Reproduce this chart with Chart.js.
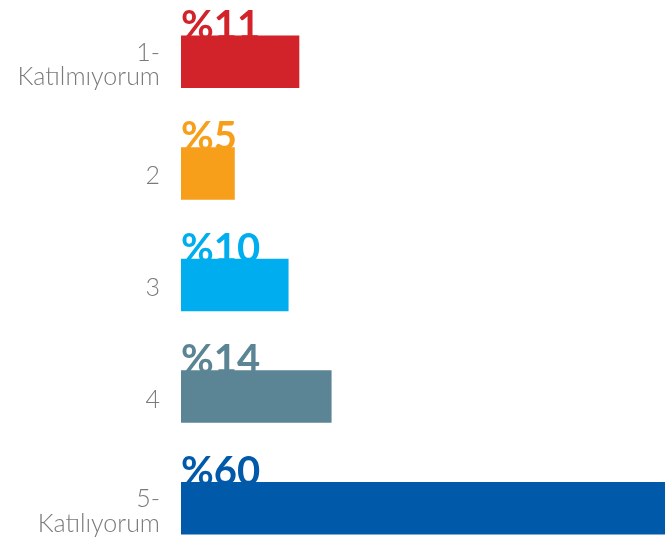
<!DOCTYPE html>
<html>
<head>
<meta charset="utf-8">
<script src="https://cdn.jsdelivr.net/npm/chart.js@4"></script>
<style>
  html, body { margin: 0; padding: 0; background: #fff; overflow: hidden; }
  #wrap { position: relative; width: 665px; height: 564px; }
</style>
</head>
<body>
<div id="wrap"><canvas id="myChart"></canvas></div>
<script>
const categories = [['1-', 'Katılmıyorum'], '2', '3', '4', ['5-', 'Katılıyorum']];
const values = [11, 5, 10, 14, 60];
const barColors = ['#D2232A', '#F79E1B', '#00AEEF', '#5B8494', '#005AA9'];

// yüzde etiketleri, barın arkasına çiziliyor
const pctLabels = {
    id: 'pctLabels',
    beforeDatasetsDraw(chart) {
        const ctx = chart.ctx;
        const meta = chart.getDatasetMeta(0);
        ctx.save();
        ctx.font = 'bold 40px Lato';
        ctx.textAlign = 'left';
        ctx.textBaseline = 'alphabetic';
        meta.data.forEach((bar, i) => {
            const top = bar.y - bar.height / 2;
            ctx.fillStyle = barColors[i];
            ctx.fillText('%' + values[i], bar.base, top + 3);
        });
        ctx.restore();
    }
};

document.addEventListener("DOMContentLoaded", function () {
    const ctx = document.getElementById('myChart').getContext('2d');
    new Chart(ctx, {
        type: 'bar',
        data: {
            labels: categories,
            datasets: [{
                data: values,
                backgroundColor: barColors,
                barPercentage: 0.47,
                categoryPercentage: 1
            }]
        },
        options: {
            indexAxis: 'y',
            responsive: true,
            maintainAspectRatio: false,
            animation: false,
            layout: { padding: { top: 6, right: 0, bottom: 0, left: 0 } },
            plugins: {
                legend: { display: false },
                tooltip: { enabled: false }
            },
            scales: {
                x: {
                    display: false,
                    min: 0,
                    max: 45
                },
                y: {
                    grid: { display: false, drawTicks: false },
                    border: { display: false },
                    ticks: {
                        color: '#7a7a7a',
                        padding: 21,
                        labelOffset: 3,
                        font: { family: 'Lato', size: 25, weight: '300', lineHeight: 0.98 }
                    },
                    afterFit(scale) {
                        scale.width = 181;
                        scale.paddingTop = 0;
                        scale.paddingBottom = 0;
                    }
                }
            }
        },
        plugins: [pctLabels]
    });
});
</script>
</body>
</html>
